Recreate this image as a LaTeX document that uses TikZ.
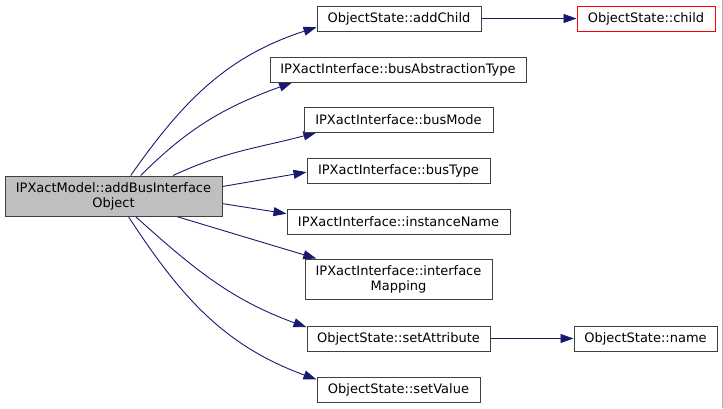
\documentclass[tikz,border=0pt]{standalone}
\usepackage{fontspec}
\setmainfont{DejaVu Sans}
\usepackage{tikz}
\usetikzlibrary{arrows.meta}
\pgfdeclarelayer{background}
\pgfdeclarelayer{foreground}
\pgfsetlayers{background,main,foreground}
\definecolor{edgeblue}{HTML}{191970}
\definecolor{boxgrey}{HTML}{404040}
\definecolor{mainfill}{HTML}{BFBFBF}
\begin{document}
\begin{tikzpicture}[x=1pt,y=1pt,
							funcnode/.style={rectangle, draw=boxgrey, line width=1pt, fill=white, inner sep=0pt, minimum height=25pt, align=center, font=\fontsize{13}{15}\selectfont},
							callline/.style={draw=edgeblue, line width=0.9pt, -{Triangle[length=13pt,width=9pt]}},
							]
							\useasboundingbox (0,0) rectangle (723,-408);
							%Nodes
							\node[funcnode, fill=mainfill, minimum width=217pt, minimum height=40pt] (main) at (113.5,-196) {IPXactModel::addBusInterface\\Object};
							\node[funcnode, minimum width=164pt]      (addchild) 	at 	(399,-18.5)       {ObjectState::addChild};
							\node[funcnode, draw=red, minimum width=138pt]      (child) 	at 	(646,-18.5)       {ObjectState::child};
							\node[funcnode, minimum width=256pt]      (busabs) 	at 	(398,-69.5)       {IPXactInterface::busAbstractionType};
							\node[funcnode, minimum width=189pt]      (busmode) 	at 	(398.5,-119.5)    {IPXactInterface::busMode};
							\node[funcnode, minimum width=183pt]      (bustype) 	at 	(398.5,-170.5)    {IPXactInterface::busType};
							\node[funcnode, minimum width=223pt]      (instname) 	at 	(398.5,-221.5)    {IPXactInterface::instanceName};
							\node[funcnode, minimum width=187pt, minimum height=40pt]      (ifmap) 	at 	(398.5,-279)      {IPXactInterface::interface\\Mapping};
							\node[funcnode, minimum width=183pt]      (setattr) 	at 	(398.5,-338.5)    {ObjectState::setAttribute};
							\node[funcnode, minimum width=143pt]      (name) 	at 	(645.5,-338.5)    {ObjectState::name};
							\node[funcnode, minimum width=163pt]      (setvalue) 	at 	(398.5,-389.5)    {ObjectState::setValue};
							
							\begin{pgfonlayer}{background}
							\fill[white] (0,0) rectangle (723,-408);
							\draw[gray!60, line width=1pt] (722.5,0) -- (722.5,-408);
							%Lines
							\draw[callline] (main.50.5) to[out=55,in=198] (addchild.186);
							\draw[callline] (main.37) to[out=45,in=200] (busabs.187.7);
							\draw[callline] (main.19.5) to[out=25,in=195] (busmode.189.3);
							\draw[callline] (main.5.3) -- (bustype.181);
							\draw[callline] (main.-4.7) -- (instname.176.7);
							\draw[callline] (main.-18) -- (ifmap.166);
							\draw[callline] (main.-43) to[out=-42,in=160] (setattr.173.5);
							\draw[callline] (main.-54) to[out=-57,in=160] (setvalue.173.4);
							\draw[callline] (addchild) -- (child);
							\draw[callline] (setattr) -- (name);
							\end{pgfonlayer}
						\end{tikzpicture}
\end{document}
